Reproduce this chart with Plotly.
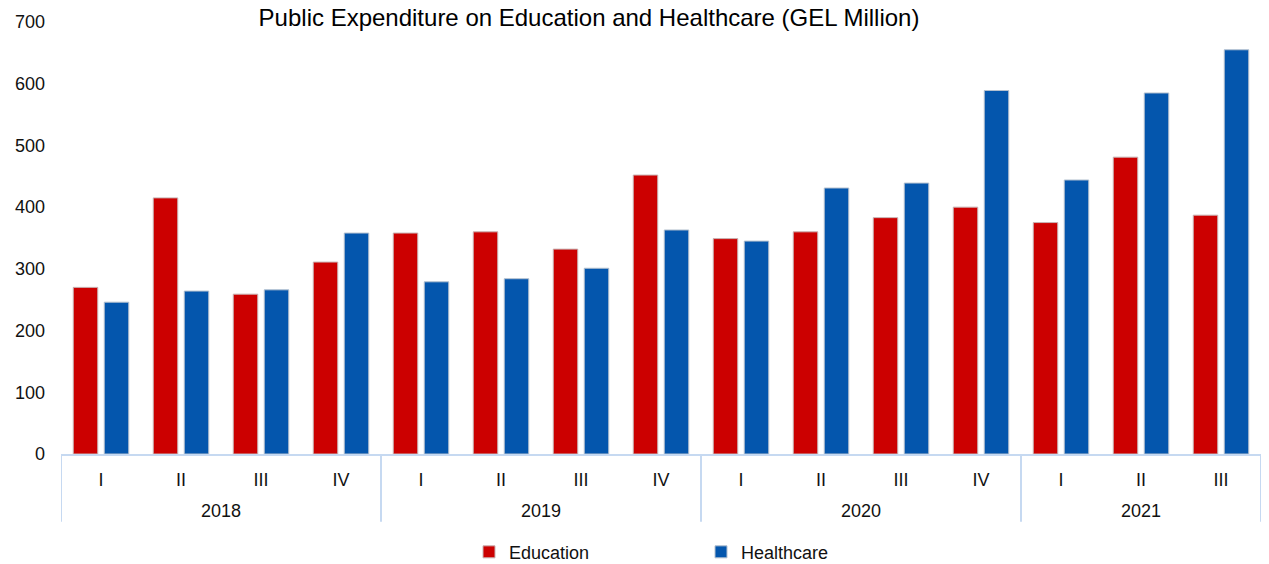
import plotly.graph_objects as go

# Quarterly public expenditure, GEL million
years = ["2018"] * 4 + ["2019"] * 4 + ["2020"] * 4 + ["2021"] * 3
quarters = ["I", "II", "III", "IV"] * 3 + ["I", "II", "III"]
education = [270, 415, 259, 311, 358, 360, 332, 452, 349, 360, 383, 400, 375, 481, 387]
healthcare = [246, 264, 266, 358, 279, 284, 301, 363, 345, 431, 439, 589, 444, 585, 655]

FONT = "Liberation Sans, Arial, sans-serif"
LINE = "#c6d9f1"
TXT = "#111111"

pos = list(range(len(quarters)))

fig = go.Figure()
fig.add_trace(go.Bar(
    x=pos, y=education, name="Education",
    marker=dict(color="#cc0000", line=dict(color="#c8b4b4", width=1)),
))
fig.add_trace(go.Bar(
    x=pos, y=healthcare, name="Healthcare",
    marker=dict(color="#0456ad", line=dict(color="#b4c0cf", width=1)),
))

# Year group labels and the divider lines of the two-level category axis
year_order = list(dict.fromkeys(years))
edges = [-0.5]
for yr in year_order:
    idx = [i for i, v in enumerate(years) if v == yr]
    fig.add_annotation(
        x=sum(idx) / len(idx), y=-0.132, xref="x", yref="paper",
        text=yr, showarrow=False, yanchor="middle",
        font=dict(family=FONT, size=18, color=TXT),
    )
    edges.append(idx[-1] + 0.5)
for e in edges:
    fig.add_shape(
        type="line", xref="x", yref="paper",
        x0=e, x1=e, y0=0, y1=-0.157,
        line=dict(color=LINE, width=2),
    )

fig.update_layout(
    width=1269, height=564,
    margin=dict(l=61, r=8, t=22, b=110, autoexpand=False),
    paper_bgcolor="white", plot_bgcolor="white",
    font=dict(family=FONT, size=18, color=TXT),
    title=dict(
        text="Public Expenditure on Education and Healthcare (GEL Million)",
        font=dict(family=FONT, size=24, color="#000000"),
        x=0.44, xanchor="center", xref="paper",
        y=0.968, yanchor="middle", yref="container",
    ),
    barmode="group", bargap=0.225, bargroupgap=0.21,
    showlegend=True,
    legend=dict(
        orientation="h", x=0.34, xanchor="left",
        y=0.021, yanchor="middle", yref="container",
        font=dict(family=FONT, size=18, color=TXT),
        entrywidth=187, entrywidthmode="pixels",
        itemwidth=30, traceorder="normal",
    ),
)

fig.update_xaxes(
    range=[-0.5, len(quarters) - 0.5],
    tickmode="array", tickvals=pos, ticktext=quarters,
    showline=True, linecolor=LINE, linewidth=2,
    showgrid=False, zeroline=False, ticks="",
    ticklabelstandoff=8, automargin=False,
    tickfont=dict(family=FONT, size=18, color=TXT),
)
fig.update_yaxes(
    range=[0, 700], dtick=100, showgrid=False, zeroline=False,
    showline=False, ticks="", ticklabelstandoff=15, automargin=False,
    tickfont=dict(family=FONT, size=18, color=TXT),
)

fig.write_html("out.html")
